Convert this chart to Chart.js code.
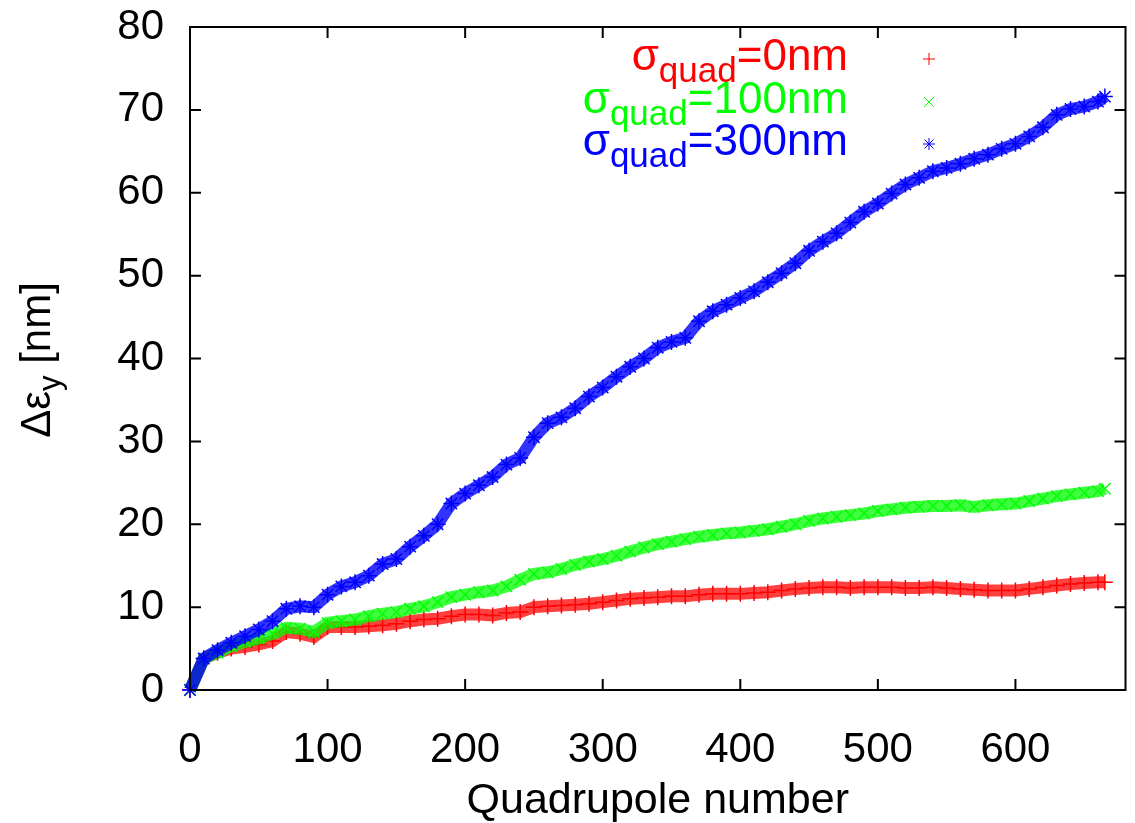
<!DOCTYPE html>
<html>
<head>
<meta charset="utf-8">
<script src="https://cdn.jsdelivr.net/npm/chart.js@4.4.0/dist/chart.umd.min.js"></script>
<style>
  html, body { margin: 0; padding: 0; background: #fff; }
</style>
</head>
<body>
<canvas id="myChart" width="1135" height="823"></canvas>
<script>
// quadrupole index (x) and emittance growth in nm (y)
const quadNumber = [
  0, 10, 20, 30, 40, 50, 60, 70, 80, 90,
  100, 110, 120, 130, 140, 150, 160, 170, 180, 190,
  200, 210, 220, 230, 240, 250, 260, 270, 280, 290,
  300, 310, 320, 330, 340, 350, 360, 370, 380, 390,
  400, 410, 420, 430, 440, 450, 460, 470, 480, 490,
  500, 510, 520, 530, 540, 550, 560, 570, 580, 590,
  600, 610, 620, 630, 640, 650, 660, 665
];

const sigma0 = [
  0, 3.8, 4.5, 5.0, 5.2, 5.5, 5.9, 7.0, 6.8, 6.4,
  7.6, 7.6, 7.6, 7.7, 7.8, 8.0, 8.3, 8.5, 8.6, 8.9,
  9.1, 9.1, 9.0, 9.3, 9.4, 10.0, 10.1, 10.2, 10.3, 10.4,
  10.6, 10.8, 11.0, 11.1, 11.2, 11.3, 11.3, 11.5, 11.6, 11.6,
  11.6, 11.7, 11.8, 12.0, 12.2, 12.3, 12.4, 12.4, 12.3, 12.4,
  12.4, 12.4, 12.3, 12.3, 12.4, 12.3, 12.2, 12.1, 12.0, 12.0,
  12.0, 12.2, 12.4, 12.6, 12.8, 12.9, 13.0, 13.0
];

const sigma100 = [
  0, 3.8, 4.5, 5.3, 5.8, 6.2, 6.8, 7.5, 7.4, 7.0,
  8.1, 8.3, 8.5, 8.9, 9.2, 9.4, 9.8, 10.1, 10.6, 11.2,
  11.5, 11.8, 12.0, 12.5, 13.3, 14.0, 14.2, 14.6, 15.1, 15.5,
  15.8, 16.2, 16.7, 17.2, 17.6, 17.9, 18.2, 18.5, 18.7, 18.9,
  19.0, 19.2, 19.4, 19.7, 20.0, 20.4, 20.7, 20.9, 21.1, 21.3,
  21.6, 21.8, 22.0, 22.1, 22.2, 22.2, 22.3, 22.1, 22.3, 22.4,
  22.5, 22.8, 23.1, 23.4, 23.6, 23.8, 24.0, 24.3
];

const sigma300 = [
  0, 3.8, 4.8, 5.7, 6.5, 7.3, 8.3, 9.8, 10.1, 10.0,
  11.5, 12.5, 13.0, 13.8, 15.2, 15.8, 17.3, 18.6, 20.0, 22.5,
  23.7, 24.7, 25.7, 27.2, 28.0, 30.5, 32.2, 32.9, 34.0, 35.4,
  36.5, 37.8, 39.0, 40.0, 41.3, 42.0, 42.5, 44.5, 45.7, 46.5,
  47.3, 48.1, 49.2, 50.3, 51.5, 53.0, 54.1, 55.1, 56.4, 57.7,
  58.7, 59.9, 61.0, 61.8, 62.6, 63.0, 63.5, 64.1, 64.6, 65.3,
  65.9, 66.8, 67.9, 69.4, 70.1, 70.4, 71.0, 71.6
];

const seriesNames = ['0nm', '100nm', '300nm'];
const xTicks = [0, 100, 200, 300, 400, 500, 600];
const yTicks = [0, 10, 20, 30, 40, 50, 60, 70, 80];

const FONT = '"Liberation Sans", Arial, Helvetica, sans-serif';

function makeSet(values, color, band, style, order) {
  return {
    data: quadNumber.map((q, i) => ({ x: q, y: values[i] })),
    showLine: true,
    borderColor: band,
    borderWidth: 12,
    pointStyle: style,
    pointRadius: 8,
    pointBorderColor: color,
    pointBackgroundColor: color,
    pointBorderWidth: 1.5,
    order: order,
    clip: false
  };
}

// small marker for the key, drawn by hand
function drawMarker(ctx, style, x, y, r) {
  ctx.beginPath();
  if (style === 'cross' || style === 'star') {
    ctx.moveTo(x - r, y); ctx.lineTo(x + r, y);
    ctx.moveTo(x, y - r); ctx.lineTo(x, y + r);
  }
  if (style === 'crossRot' || style === 'star') {
    const d = style === 'star' ? r * 0.75 : r * 0.8;
    ctx.moveTo(x - d, y - d); ctx.lineTo(x + d, y + d);
    ctx.moveTo(x - d, y + d); ctx.lineTo(x + d, y - d);
  }
  ctx.stroke();
}

const extras = {
  id: 'extras',
  afterDraw(chart) {
    const { ctx, chartArea: a, scales } = chart;
    const sx = scales.x, sy = scales.y;
    ctx.save();

    // frame with inward ticks on all sides
    ctx.strokeStyle = '#000';
    ctx.lineWidth = 2;
    ctx.beginPath();
    xTicks.forEach(v => {
      const px = sx.getPixelForValue(v);
      ctx.moveTo(px, a.bottom); ctx.lineTo(px, a.bottom - 11);
      ctx.moveTo(px, a.top); ctx.lineTo(px, a.top + 11);
    });
    yTicks.forEach(v => {
      const py = sy.getPixelForValue(v);
      ctx.moveTo(a.left, py); ctx.lineTo(a.left + 11, py);
      ctx.moveTo(a.right, py); ctx.lineTo(a.right - 11, py);
    });
    ctx.stroke();
    ctx.strokeRect(a.left, a.top, a.right - a.left, a.bottom - a.top);

    // key: sigma_quad = ...
    const rows = [70, 113, 155];
    chart.data.datasets.forEach((ds, i) => {
      const main = '44px ' + FONT, sub = '35px ' + FONT;
      ctx.font = main;
      const wSig = ctx.measureText('σ').width;
      const wTail = ctx.measureText('=' + seriesNames[i]).width;
      ctx.font = sub;
      const wSub = ctx.measureText('quad').width;
      let x = 848 - (wSig + wSub + wTail);
      const y = rows[i];
      ctx.fillStyle = ds.pointBorderColor;
      ctx.textBaseline = 'alphabetic';
      ctx.textAlign = 'left';
      ctx.font = main;
      ctx.fillText('σ', x, y);
      x += wSig;
      ctx.font = sub;
      ctx.fillText('quad', x, y + 12);
      x += wSub;
      ctx.font = main;
      ctx.fillText('=' + seriesNames[i], x, y);

      ctx.strokeStyle = ds.pointBorderColor;
      ctx.lineWidth = 1;
      drawMarker(ctx, ds.pointStyle, 929, y - 11, 6);
    });

    // y axis title with subscript
    ctx.translate(50, 360);
    ctx.rotate(-Math.PI / 2);
    ctx.fillStyle = '#000';
    ctx.textBaseline = 'alphabetic';
    ctx.textAlign = 'left';
    const m = '42px ' + FONT, s = '31px ' + FONT;
    ctx.font = m;
    const w1 = ctx.measureText('Δε').width;
    const w3 = ctx.measureText(' [nm]').width;
    ctx.font = s;
    const w2 = ctx.measureText('y').width;
    let tx = -(w1 + w2 + w3) / 2;
    ctx.font = m;
    ctx.fillText('Δε', tx, 0);
    tx += w1;
    ctx.font = s;
    ctx.fillText('y', tx, 10);
    tx += w2;
    ctx.font = m;
    ctx.fillText(' [nm]', tx, 0);

    ctx.restore();
  }
};

const ctx = document.getElementById('myChart').getContext('2d');

new Chart(ctx, {
  type: 'scatter',
  data: {
    datasets: [
      makeSet(sigma0, '#ff0000', 'rgba(255,0,0,0.75)', 'cross', 3),
      makeSet(sigma100, '#00ff00', 'rgba(0,255,0,0.75)', 'crossRot', 2),
      makeSet(sigma300, '#0000ff', 'rgba(0,0,255,0.8)', 'star', 1)
    ]
  },
  options: {
    responsive: false,
    animation: false,
    devicePixelRatio: 1,
    layout: { padding: { top: 27, right: 7, left: 0, bottom: 0 } },
    plugins: {
      legend: { display: false },
      tooltip: { enabled: false }
    },
    scales: {
      x: {
        type: 'linear',
        min: 0,
        max: 680,
        grid: { display: false },
        border: { display: false },
        afterBuildTicks: scale => { scale.ticks = xTicks.map(v => ({ value: v })); },
        afterFit: scale => {
          scale.height = 133;
          scale.paddingLeft = 0;
          scale.paddingRight = 0;
        },
        ticks: {
          color: '#000',
          padding: 27,
          maxRotation: 0,
          font: { family: FONT, size: 42 }
        },
        title: {
          display: true,
          text: 'Quadrupole number',
          color: '#000',
          padding: { top: 4, bottom: 0 },
          font: { family: FONT, size: 43, lineHeight: 1.0 }
        }
      },
      y: {
        type: 'linear',
        min: 0,
        max: 80,
        grid: { display: false },
        border: { display: false },
        afterBuildTicks: scale => { scale.ticks = yTicks.map(v => ({ value: v })); },
        afterFit: scale => {
          scale.width = 190;
          scale.paddingTop = 0;
          scale.paddingBottom = 0;
        },
        ticks: {
          color: '#000',
          padding: 18,
          font: { family: FONT, size: 42 }
        }
      }
    }
  },
  plugins: [extras]
});
</script>
</body>
</html>
